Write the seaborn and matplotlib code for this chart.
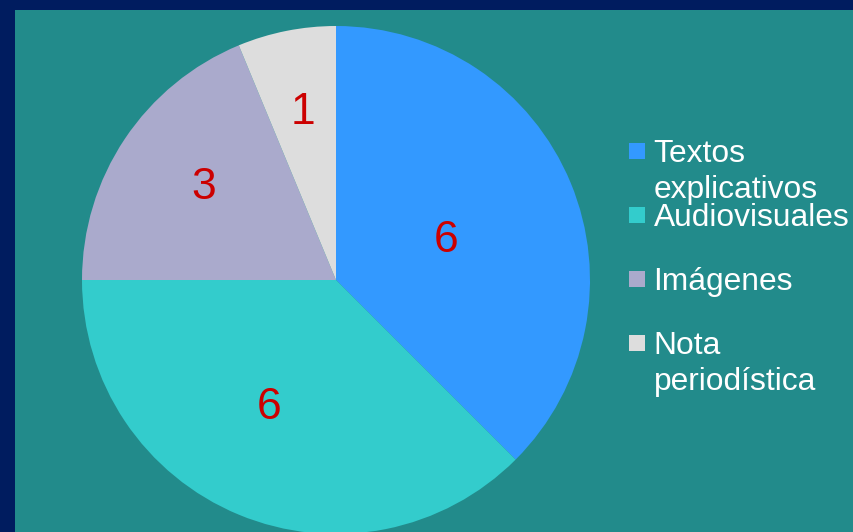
import matplotlib
matplotlib.use('Agg')
import matplotlib.pyplot as plt
import seaborn as sns
from matplotlib.patches import Rectangle
import numpy as np

categories = ['Textos\nexplicativos', 'Audiovisuales', 'Imágenes', 'Nota\nperiodística']
values = [6, 6, 3, 1]
colors = ['#3399ff', '#33cccc', '#aaaacc', '#dddddd']

sns.set_theme(style='white')
plt.rcParams['font.family'] = ['Liberation Sans', 'DejaVu Sans']

W, H = 854, 532
NAVY = '#001c5f'
TEAL = '#228b8b'
fig = plt.figure(figsize=(W / 100, H / 100), dpi=100, facecolor=NAVY)
ax = fig.add_axes([0, 0, 1, 1])
ax.set_facecolor(NAVY)
ax.add_patch(Rectangle((15, 0), W - 15, H - 10, facecolor=TEAL, edgecolor='none', zorder=0))

cx, cy, R = 336, H - 280, 254
wedges, _ = ax.pie(values, colors=colors, startangle=90, counterclock=False,
                   center=(cx, cy), radius=R, wedgeprops=dict(linewidth=0))

# label placement: radial fraction and clockwise angular offset (deg) from bisector
label_r = [0.467, 0.55, 0.645, 0.69]
label_da = [0.5, 6.0, 2.5, 0.3]
for w, v, f, da in zip(wedges, values, label_r, label_da):
    th = np.deg2rad((w.theta1 + w.theta2) / 2 - da)
    ax.text(cx + f * R * np.cos(th), cy + f * R * np.sin(th) - 16, str(v),
            ha='center', va='baseline', color='#cc0000', fontsize=32)

# legend (fixed-pitch entries, as in the reference)
for i, (w, lab) in enumerate(zip(wedges, categories)):
    b = 162 + 64 * i
    ax.add_patch(Rectangle((629, H - b + 3), 16, 16, facecolor=w.get_facecolor(),
                           edgecolor='none', zorder=3))
    for j, line in enumerate(lab.split('\n')):
        ax.text(653.5, H - (b + 36 * j), line, color='white', fontsize=22.9,
                va='baseline', ha='left')

ax.set_xlim(0, W)
ax.set_ylim(0, H)
ax.set_aspect('equal')
ax.axis('off')
fig.savefig('out.png', dpi=100, facecolor=NAVY)
